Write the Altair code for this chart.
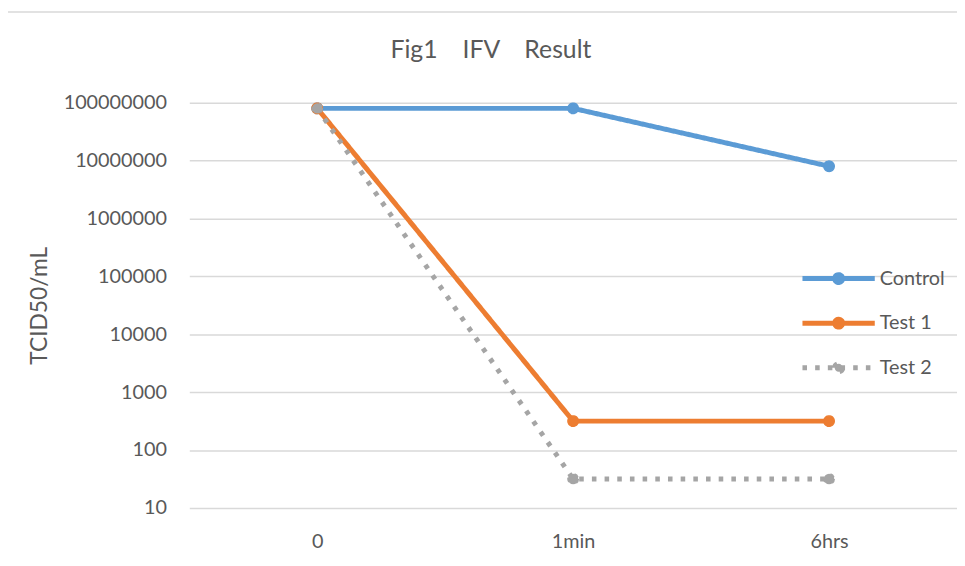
import altair as alt
import pandas as pd

times = ["0", "1min", "6hrs"]
series = ["Control", "Test 1", "Test 2"]
control = [8.0e7, 8.0e7, 8.0e6]
test1 = [8.0e7, 316, 316]
test2 = [8.0e7, 31.6, 31.6]
y_ticks = [10, 100, 1000, 10000, 100000, 1000000, 10000000, 100000000]

colors = ["#5B9BD5", "#ED7D31", "#A5A5A5"]
dashes = [[1, 0], [1, 0], [4.6, 8.2]]

rows = []
for name, vals in zip(series, [control, test1, test2]):
    for t, v in zip(times, vals):
        rows.append({"time": t, "series": name, "value": v})
df = pd.DataFrame(rows)

FONT = "Lato"
GREY_TXT = "#595959"

x_enc = alt.X("time:N", sort=times, title=None,
              axis=alt.Axis(labelAngle=0, domain=False, ticks=False, grid=False,
                            labelFont=FONT, labelFontSize=20, labelColor=GREY_TXT,
                            labelPadding=24))
y_enc = alt.Y("value:Q", title="TCID50/mL",
              scale=alt.Scale(type="log", domain=[10, 1e8], nice=False),
              axis=alt.Axis(values=y_ticks, format="d", domain=False, ticks=False, tickSize=0,
                            grid=True, gridColor="#D9D9D9", gridWidth=1.5,
                            labelFont=FONT, labelFontSize=20, labelColor=GREY_TXT,
                            labelPadding=23, titleFont=FONT, titleFontSize=23,
                            titleFontWeight="normal", titleColor=GREY_TXT, titlePadding=12))

color_scale = alt.Scale(domain=series, range=colors)
dash_scale = alt.Scale(domain=series, range=dashes)

legend_symbol = "M-3.65,0H3.65M-0.4,0A0.4,0.4,0,1,1,0.4,0A0.4,0.4,0,1,1,-0.4,0Z"

base = alt.Chart(df)

lines = base.mark_line(strokeWidth=5, strokeCap="butt", strokeJoin="round").encode(
    x=x_enc, y=y_enc,
    color=alt.Color("series:N", scale=color_scale, legend=None),
    strokeDash=alt.StrokeDash("series:N", scale=dash_scale, legend=None),
)

legend = alt.Legend(title=None, orient="none", legendX=643, legendY=165,
                    symbolType=legend_symbol, symbolSize=400, symbolStrokeWidth=5,
                    labelFont=FONT, labelFontSize=20, labelColor=GREY_TXT,
                    labelOffset=29, rowPadding=16, padding=0)

points = base.mark_point(filled=True, size=110, strokeWidth=1.5, opacity=1).encode(
    x=x_enc, y=y_enc,
    color=alt.Color("series:N", scale=color_scale, legend=legend),
    stroke=alt.Stroke("series:N", scale=color_scale, legend=legend),
    strokeDash=alt.StrokeDash("series:N", scale=dash_scale, legend=legend),
)

frame_data = alt.Data(values=[{"k": 1}])
frame_left = alt.Chart(frame_data).mark_rule(color="#D9D9D9", strokeWidth=1.5).encode(
    x=alt.value(-185.5), y=alt.value(-91.5), y2=alt.value(470))
frame_top = alt.Chart(frame_data).mark_rule(color="#D9D9D9", strokeWidth=1.5).encode(
    x=alt.value(-185.5), x2=alt.value(800), y=alt.value(-91.5))

chart = alt.layer(frame_left, frame_top, lines, points).resolve_legend(
    color="independent", stroke="independent", strokeDash="independent"
).properties(
    width=775, height=409,
    title=alt.TitleParams("Fig1\u3000IFV\u3000Result", font=FONT, fontSize=25,
                          fontWeight="normal", color=GREY_TXT, anchor="middle",
                          dx=-83, offset=-52),
    autosize=alt.AutoSizeParams(type="none"),
    padding={"left": 183, "top": 93, "right": 0, "bottom": 56},
).configure_view(stroke=None)

chart.save("out.html", embed_options={"renderer": "svg", "actions": False})
